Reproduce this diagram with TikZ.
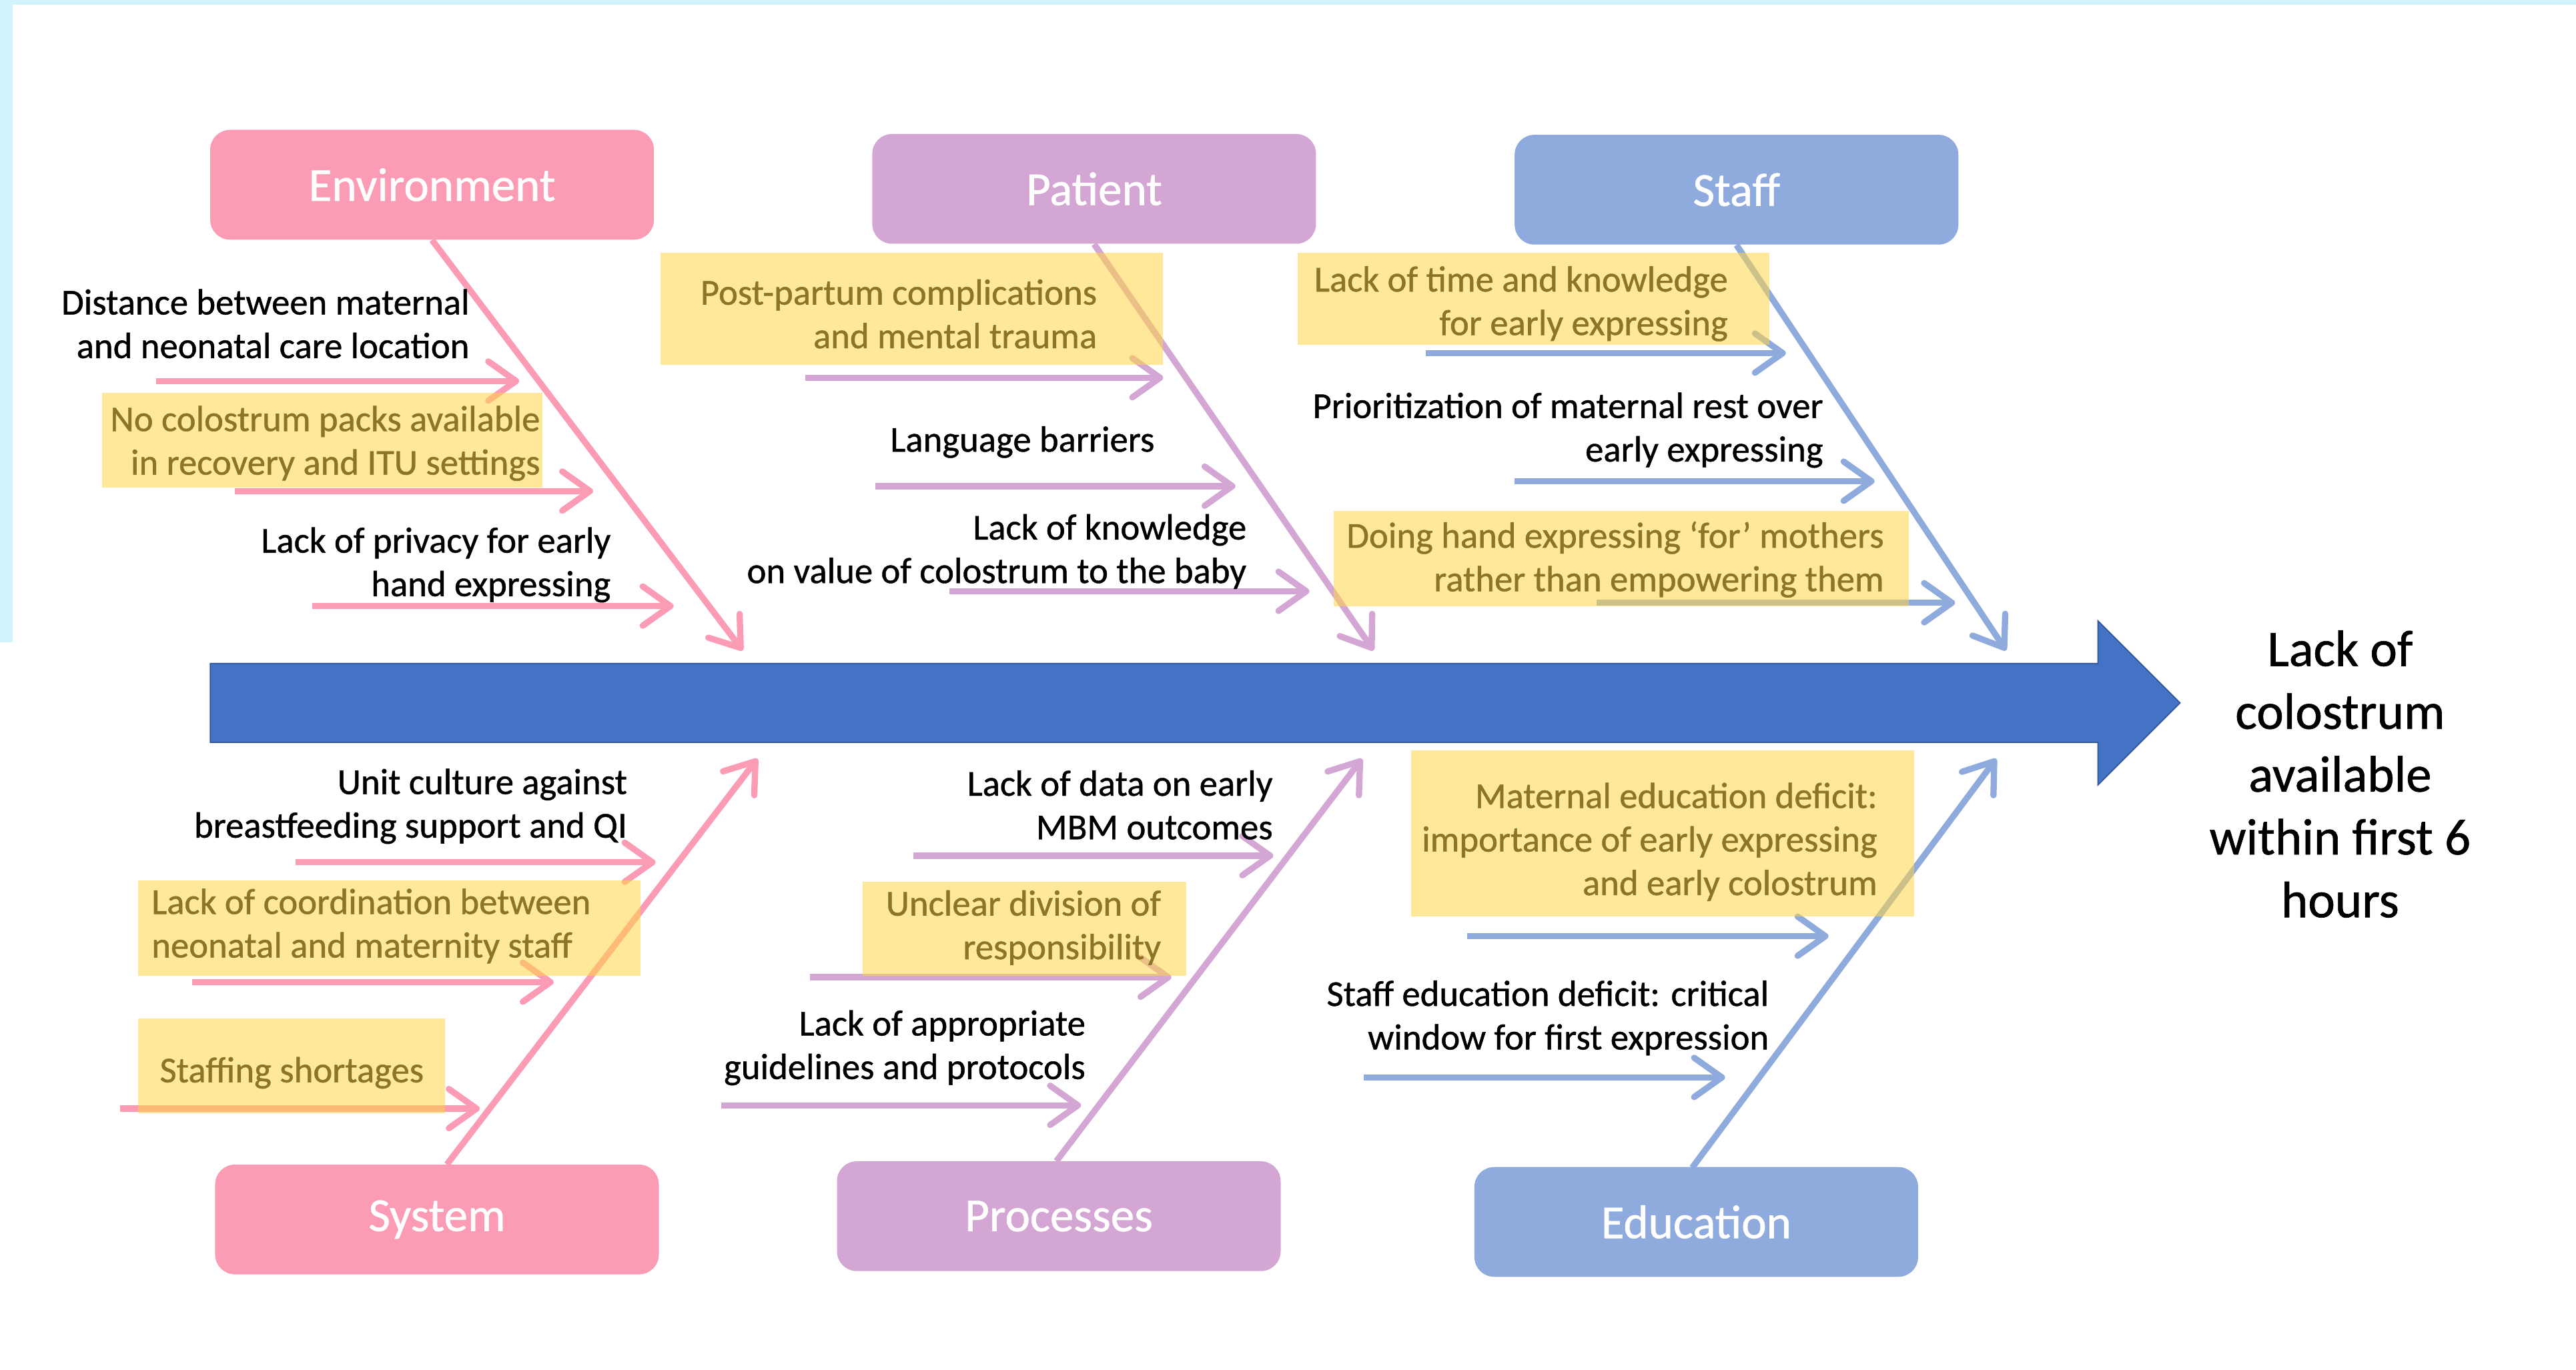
\documentclass[tikz,border=0pt]{standalone}
\usepackage{fontspec}
\setmainfont{Carlito}[FakeBold=0.8]
\usetikzlibrary{arrows.meta}
\definecolor{pinkc}{RGB}{251,155,180}
\definecolor{violc}{RGB}{212,166,212}
\definecolor{bluec}{RGB}{143,170,220}
\definecolor{spinec}{RGB}{68,114,196}
\definecolor{spineedge}{RGB}{47,85,151}
\definecolor{hilite}{RGB}{255,214,70}
\definecolor{framec}{RGB}{210,242,254}
\tikzset{
  lbl/.style={inner sep=0pt, align=right, text=black,
    font=\fontsize{15.8}{18.85}\selectfont},
  lbll/.style={lbl, align=left},
  catbox/.style={rounded corners=0.3cm, minimum width=6.75cm, minimum height=1.67cm,
    inner sep=0pt, text=white, font=\fontsize{20.5}{24}\selectfont},
  bone/.style={line width=2.7pt, -{Straight Barb[length=12pt,width=17pt,line cap=round,line join=round]}},
  hl/.style={fill=hilite, fill opacity=0.55},
}
\begin{document}
\begin{tikzpicture}[x=0.025cm, y=-0.025cm]
\useasboundingbox (0,0) rectangle (1568,834);
\fill[white] (0,0) rectangle (1568,834);
% light frame strips
\fill[framec] (0,0) rectangle (1568,2.8);
\fill[framec] (0,0) rectangle (7.7,391);

% main spine arrow
\filldraw[fill=spinec, draw=spineedge, line width=0.5pt]
  (128,404) -- (1277,404) -- (1277,378) -- (1327,428) -- (1277,478) -- (1277,452) -- (128,452) -- cycle;

% category boxes
\node[catbox, fill=pinkc] (env) at (263,112.5) {Environment};
\node[catbox, fill=violc] (pat) at (666,115) {Patient};
\node[catbox, fill=bluec] (stf) at (1057,115.5) {Staff};
\node[catbox, fill=pinkc] (sys) at (266,742.5) {System};
\node[catbox, fill=violc] (pro) at (644.5,740.5) {Processes};
\node[catbox, fill=bluec] (edu) at (1032.5,744) {Education};

% bone ends on the spine
\coordinate (envT) at (452,396);
\coordinate (patT) at (836,396);
\coordinate (stfT) at (1221,396);
\coordinate (sysT) at (461,462);
\coordinate (proT) at (829,462);
\coordinate (eduT) at (1215,462);
\coordinate (sysS) at (272,709);
\coordinate (proS) at (643,707);
\coordinate (eduS) at (1030,711);

\draw[bone, pinkc] (env.south) -- (envT);
\draw[bone, violc] (pat.south) -- (patT);
\draw[bone, bluec] (stf.south) -- (stfT);
\draw[bone, pinkc] (sysS) -- (sysT);
\draw[bone, violc] (proS) -- (proT);
\draw[bone, bluec] (eduS) -- (eduT);

% cause arrows: Environment
\coordinate (e1a) at (95,232);  \coordinate (e1b) at (316,232);
\coordinate (e2a) at (143,299); \coordinate (e2b) at (361,299);
\coordinate (e3a) at (190,369); \coordinate (e3b) at (410,369);
\draw[bone, pinkc] (e1a) -- (e1b);
\draw[bone, pinkc] (e2a) -- (e2b);
\draw[bone, pinkc] (e3a) -- (e3b);
% Patient
\coordinate (p1a) at (490,230); \coordinate (p1b) at (708,230);
\coordinate (p2a) at (533,296); \coordinate (p2b) at (752,296);
\coordinate (p3a) at (578,360); \coordinate (p3b) at (797,360);
\draw[bone, violc] (p1a) -- (p1b);
\draw[bone, violc] (p2a) -- (p2b);
\draw[bone, violc] (p3a) -- (p3b);
% Staff
\coordinate (s1a) at (868,215);  \coordinate (s1b) at (1087,215);
\coordinate (s2a) at (922,293);  \coordinate (s2b) at (1141,293);
\coordinate (s3a) at (972,367);  \coordinate (s3b) at (1190,367);
\draw[bone, bluec] (s1a) -- (s1b);
\draw[bone, bluec] (s2a) -- (s2b);
\draw[bone, bluec] (s3a) -- (s3b);
% System
\coordinate (y1a) at (180,525); \coordinate (y1b) at (399,525);
\coordinate (y2a) at (117,598); \coordinate (y2b) at (337,598);
\coordinate (y3a) at (73,675);  \coordinate (y3b) at (292,675);
\draw[bone, pinkc] (y1a) -- (y1b);
\draw[bone, pinkc] (y2a) -- (y2b);
\draw[bone, pinkc] (y3a) -- (y3b);
% Processes
\coordinate (r1a) at (556,521); \coordinate (r1b) at (775,521);
\coordinate (r2a) at (493,595); \coordinate (r2b) at (713,595);
\coordinate (r3a) at (439,673); \coordinate (r3b) at (658,673);
\draw[bone, violc] (r1a) -- (r1b);
\draw[bone, violc] (r2a) -- (r2b);
\draw[bone, violc] (r3a) -- (r3b);
% Education
\coordinate (d1a) at (893,570); \coordinate (d1b) at (1113,570);
\coordinate (d2a) at (830,656); \coordinate (d2b) at (1050,656);
\draw[bone, bluec] (d1a) -- (d1b);
\draw[bone, bluec] (d2a) -- (d2b);

% cause labels (anchored at the baseline of their last line)
\node[lbl, anchor=base east] (e1) at (286,218) {Distance between maternal\\and neonatal care location};
\node[lbl, anchor=base east] (e2) at (329,289) {No colostrum packs available\\in recovery and ITU settings};
\node[lbl, anchor=base east] (e3) at (372,363) {Lack of privacy for early\\hand expressing};
\node[lbl, anchor=base east] (p1) at (668,212) {Post-partum complications\\and mental trauma};
\node[lbl, anchor=base east] (p2) at (703,275) {Language barriers};
\node[lbl, anchor=base east] (p3) at (759,355) {Lack of knowledge\\on value of colostrum to the baby};
\node[lbl, anchor=base east] (s1) at (1052,204) {Lack of time and knowledge\\for early expressing};
\node[lbl, anchor=base east] (s2) at (1110,281) {Prioritization of maternal rest over\\early expressing};
\node[lbl, anchor=base east] (s3) at (1147,360) {Doing hand expressing ‘for’ mothers\\rather than empowering them};
\node[lbl, anchor=base east] (y1) at (382,510) {Unit culture against\\breastfeeding support and QI};
\node[lbll, anchor=base west] (y2) at (92,583) {Lack of coordination between\\neonatal and maternity staff};
\node[lbll, anchor=base west] (y3) at (97,659) {Staffing shortages};
\node[lbl, anchor=base east] (r1) at (775,511) {Lack of data on early\\MBM outcomes};
\node[lbl, anchor=base east] (r2) at (707,584) {Unclear division of\\responsibility};
\node[lbl, anchor=base east] (r3) at (661,657) {Lack of appropriate\\guidelines and protocols};
\node[lbl, anchor=base east] (d1) at (1143,545) {Maternal education deficit:\\importance of early expressing\\and early colostrum};
\node[lbl, anchor=base east] (d2) at (1077,639) {Staff education deficit: critical\\window for first expression};

% highlights laid over the flagged causes
\fill[hl] (62,239) rectangle (330,297);
\fill[hl] (402,154) rectangle (708,222);
\fill[hl] (790,154) rectangle (1077,210);
\fill[hl] (812,311) rectangle (1162,369);
\fill[hl] (84,536) rectangle (390,594);
\fill[hl] (84,620) rectangle (271,678);
\fill[hl] (525,537) rectangle (722,594);
\fill[hl] (859,457) rectangle (1165,558);

% effect
\node[inner sep=0pt, align=center, anchor=base, font=\fontsize{22.2}{27.2}\selectfont] (effect) at (1424.4,558.5)
  {Lack of\\colostrum\\available\\within first 6\\hours};
\end{tikzpicture}
\end{document}
